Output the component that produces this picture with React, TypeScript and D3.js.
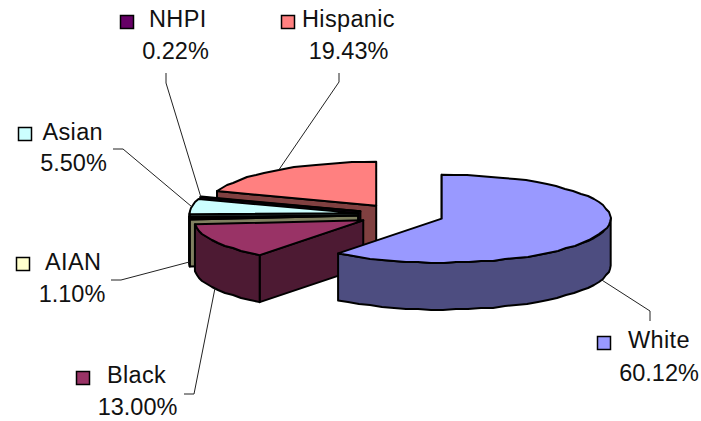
import React from "react";
import * as d3 from "d3";

// Population shares by group, clockwise from twelve o'clock
const groups = ["White", "Black", "AIAN", "Asian", "NHPI", "Hispanic"];
const shares = [60.12, 13.0, 1.1, 5.5, 0.22, 19.43];
const shareLabels = ["60.12%", "13.00%", "1.10%", "5.50%", "0.22%", "19.43%"];
const topColors = ["#9999FF", "#993366", "#FFFFCC", "#CCFFFF", "#660066", "#FF8080"];
const sideColors = ["#4D4D80", "#4D1A33", "#808060", "#668080", "#330033", "#804040"];

// Label blocks: swatch corner, name start, share centre, baselines, leader elbow
const labelLayout = [
  { sx: 597.5, sy: 336.5, nx: 628, cx: 659, by: 348, py: 381, elbow: [[650, 311], [650, 321]], drop: 47 },
  { sx: 76.5, sy: 371.5, nx: 107, cx: 137.5, by: 383, py: 415, elbow: [[194, 394], [184, 394]], drop: 47 },
  { sx: 16.5, sy: 257.5, nx: 45, cx: 72, by: 270, py: 302, elbow: [[121, 280], [111, 280]], drop: 44 },
  { sx: 18.5, sy: 127.5, nx: 42.5, cx: 73.5, by: 140, py: 171, elbow: [[123, 149], [113, 149]], drop: 0 },
  { sx: 120.5, sy: 15.5, nx: 149, cx: 175.5, by: 27, py: 59, elbow: [[166, 83], [166, 73]], drop: 0 },
  { sx: 281.5, sy: 15.5, nx: 302, cx: 348.5, by: 27, py: 59, elbow: [[339, 82], [339, 73]], drop: 0 },
];

const W = 701;
const H = 421;
const RX = 169;
const RY = 44;
const DEPTH = 47;
const EXPLODE = 43;
const CX = 401;
const CY = 215;
const FONT_SIZE = 23.5;
const NAME_TRACKING = 0.35;
const OUTLINE = 2;
const SLIVER_SHARE = 2;

type Pt = [number, number];
const line = d3.line<Pt>();

const arcs = d3.pie<number>().sort(null).value((d) => d)(shares);

export default function App() {
  const slices = arcs.map((a, i) => {
    const mid = (a.startAngle + a.endAngle) / 2;
    const c: Pt = [
      CX + EXPLODE * Math.sin(mid),
      CY - EXPLODE * Math.cos(mid) * (RY / RX),
    ];
    const at = (t: number): Pt => [c[0] + RX * Math.sin(t), c[1] - RY * Math.cos(t)];
    // The rim is sampled coarsely and snapped to whole pixels, which gives it a hand-ruled edge
    const rim = (t0: number, t1: number): Pt[] => {
      const n = Math.max(1, Math.ceil((t1 - t0) / (Math.PI / 42)));
      return d3.range(n + 1).map((k) => {
        const p = at(t0 + ((t1 - t0) * k) / n);
        return k === 0 || k === n ? p : ([Math.round(p[0]), Math.round(p[1])] as Pt);
      });
    };
    const top = line([c, ...rim(a.startAngle, a.endAngle)])! + "Z";
    const s = at(a.startAngle);
    const face = line([c, s, [s[0], s[1] + DEPTH], [c[0], c[1] + DEPTH]])! + "Z";
    const w0 = Math.max(a.startAngle, Math.PI / 2);
    const w1 = Math.min(a.endAngle, (3 * Math.PI) / 2);
    let wall: string | null = null;
    if (w1 > w0) {
      const edge = rim(w0, w1);
      const lower = edge.map(([x, y]) => [x, y + DEPTH] as Pt).reverse();
      wall = line([...edge, ...lower])! + "Z";
    }
    const anchor = at(mid);
    const layout = labelLayout[i];
    const leader = line([
      [anchor[0], anchor[1] + layout.drop],
      layout.elbow[0] as Pt,
      layout.elbow[1] as Pt,
    ])!;
    return { i, top, face, wall, leader, layout };
  });

  return (
    <svg
      width={W}
      height={H}
      viewBox={`0 0 ${W} ${H}`}
      style={{ position: "absolute", left: 0, top: 0, background: "#fff" }}
    >
      {/* Slices paint from the back of the pie to the front */}
      {[5, 4, 3, 2, 1, 0].map((i) => {
        const s = slices[i];
        return (
          <g key={groups[i]} stroke="#000" strokeWidth={OUTLINE} strokeLinejoin="round">
            <path d={s.face} fill={sideColors[i]} />
            {s.wall && <path d={s.wall} fill={sideColors[i]} />}
            {/* The narrowest wedges close up into a solid dark band */}
            <path d={s.top} fill={shares[i] < SLIVER_SHARE ? "#000" : topColors[i]} />
          </g>
        );
      })}
      {slices.map((s) => (
        <path key={s.i} d={s.leader} fill="none" stroke="#222" strokeWidth={1} />
      ))}
      <g fontFamily="'Liberation Sans', Arial, sans-serif" fontSize={FONT_SIZE} fill="#111">
        {slices.map(({ i, layout }) => (
          <g key={groups[i]}>
            <rect
              x={layout.sx}
              y={layout.sy}
              width={13}
              height={13}
              fill={topColors[i]}
              stroke="#000"
              strokeWidth={1.5}
            />
            <text x={layout.nx} y={layout.by} letterSpacing={NAME_TRACKING}>{groups[i]}</text>
            <text x={layout.cx} y={layout.py} textAnchor="middle">{shareLabels[i]}</text>
          </g>
        ))}
      </g>
    </svg>
  );
}
